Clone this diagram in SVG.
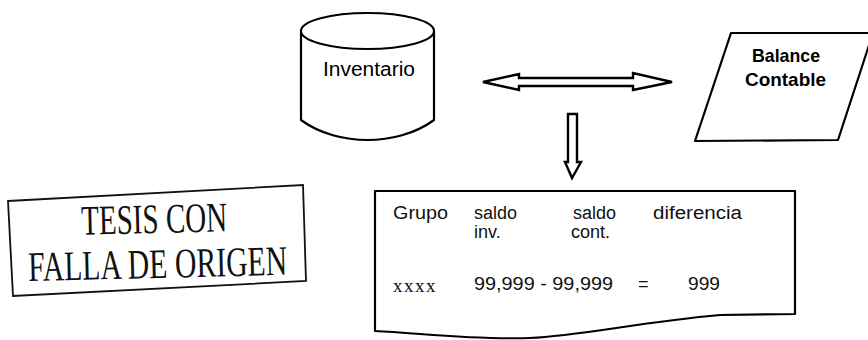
<svg xmlns="http://www.w3.org/2000/svg" width="868" height="340" viewBox="0 0 868 340">
<style>
.shape{fill:#fff;stroke:#000;stroke-width:2.2;stroke-linejoin:round}
.arrow{fill:#fff;stroke:#000;stroke-width:2.4;stroke-linejoin:miter}
.lbl{font-family:"Liberation Sans",Arial,sans-serif;fill:#000}
.rep{font-family:"Liberation Sans",Arial,sans-serif;font-size:18px;fill:#111}
.ser{font-family:"Liberation Serif","Times New Roman",serif;fill:#111}
.stamp{font-family:"Liberation Serif","Times New Roman",serif;font-size:42px;fill:#111}
</style>
<rect width="868" height="340" fill="#fff"/>

<g id="node-inventario">
<path class="shape" d="M301,31 L301,120 C320,134 345,140 367.5,140 C390,140 415,134 434,120 L434,31"/>
<ellipse class="shape" cx="367.5" cy="31" rx="66.5" ry="18"/>
<text class="lbl" x="369" y="76" font-size="20" text-anchor="middle" textLength="92" lengthAdjust="spacingAndGlyphs">Inventario</text>
</g>

<g id="node-balance">
<polygon class="shape" points="731,33 873,33 838,140 695,141"/>
<text class="lbl" x="786" y="62" font-size="19" font-weight="bold" text-anchor="middle" textLength="68" lengthAdjust="spacingAndGlyphs">Balance</text>
<text class="lbl" x="785.5" y="86" font-size="19" font-weight="bold" text-anchor="middle" textLength="81" lengthAdjust="spacingAndGlyphs">Contable</text>
</g>

<g id="node-reporte">
<path class="shape" d="M375,191 L795,191 L795,314 L720,315 C640,322 580,336 530,338 C470,340 420,333 375,331 Z"/>
<text class="rep" x="393" y="219" textLength="55" lengthAdjust="spacingAndGlyphs">Grupo</text>
<text class="rep" x="474" y="219">saldo</text>
<text class="rep" x="474" y="238">inv.</text>
<text class="rep" x="573" y="219">saldo</text>
<text class="rep" x="571" y="238">cont.</text>
<text class="rep" x="653" y="219" textLength="89" lengthAdjust="spacingAndGlyphs">diferencia</text>
<text class="ser" x="393" y="292" font-size="19" letter-spacing="1.5">xxxx</text>
<text class="rep" x="474" y="290" textLength="139" lengthAdjust="spacingAndGlyphs">99,999 - 99,999</text>
<text class="rep" x="638" y="290">=</text>
<text class="rep" x="688" y="290" textLength="32" lengthAdjust="spacingAndGlyphs">999</text>
</g>

<g id="stamp">
<polygon points="8,201 303,185 306,281 13,296" fill="none" stroke="#111" stroke-width="1.8"/>
<g transform="rotate(-1.4 155 255)">
<text class="stamp" x="82" y="233" textLength="146" lengthAdjust="spacingAndGlyphs">TESIS CON</text>
<text class="stamp" x="28" y="278" textLength="259" lengthAdjust="spacingAndGlyphs">FALLA DE ORIGEN</text>
</g>
</g>

<g id="connectors">
<polygon class="arrow" points="483,82 519,74 519,78 633,78 633,73 672,82 633,90 633,86 519,86 519,90"/>
<polygon class="arrow" points="568,114 577,114 577,162 581,162 572,178 565,162 568,162"/>
</g>
</svg>
